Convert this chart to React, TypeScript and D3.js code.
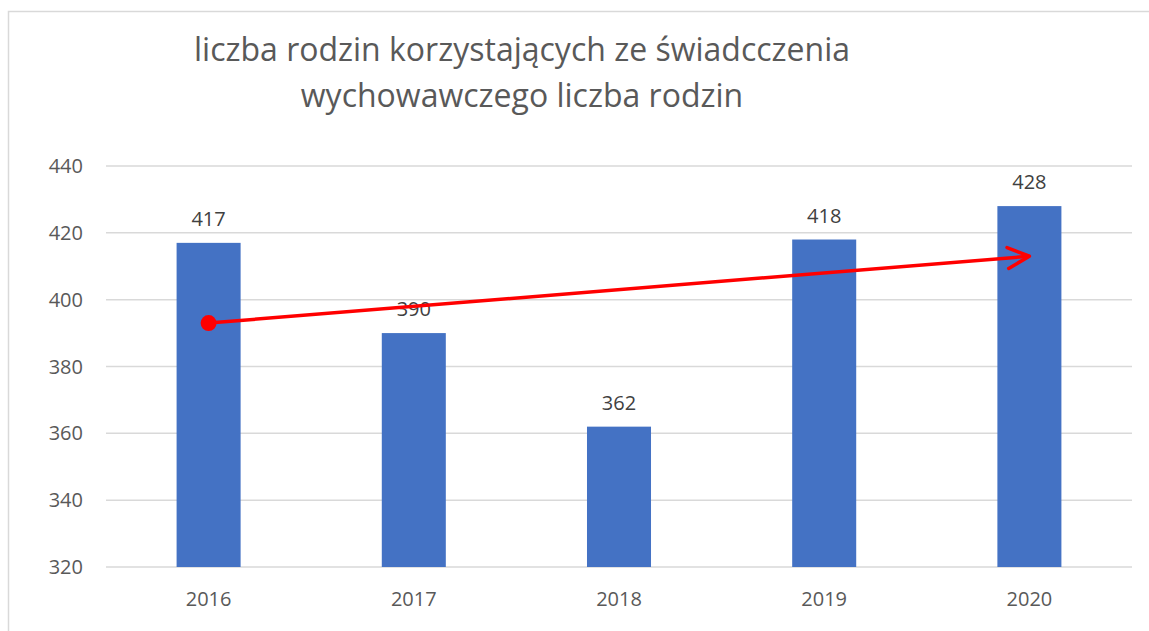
import React, { useRef, useEffect } from "react";
import * as d3 from "d3";

// data
const years = ["2016", "2017", "2018", "2019", "2020"];
const families = [417, 390, 362, 418, 428];
const yTicks = [320, 340, 360, 380, 400, 420, 440];
const trendYears = ["2016", "2020"];
const trendValues = [393, 413];
const titleLines = [
  "liczba rodzin korzystających ze świadcczenia",
  "wychowawczego liczba rodzin",
];

const W = 1149;
const H = 631;
const FONT = "'Open Sans', 'Liberation Sans', sans-serif";
const TEXT = "#595959";

const App = () => {
  const ref = useRef<SVGSVGElement>(null);

  useEffect(() => {
    if (!ref.current) return;
    const svg = d3.select(ref.current);
    svg.selectAll("*").remove();

    const margin = { top: 166, right: 17, bottom: 64, left: 106 };
    const width = W - margin.left - margin.right;
    const height = H - margin.top - margin.bottom;

    // chart area border
    svg
      .append("rect")
      .attr("x", 8.5)
      .attr("y", 11.5)
      .attr("width", W)
      .attr("height", H)
      .attr("fill", "#fff")
      .attr("stroke", "#d9d9d9")
      .attr("stroke-width", 1.5);

    // title
    svg
      .append("g")
      .selectAll("text")
      .data(titleLines)
      .enter()
      .append("text")
      .attr("x", 522)
      .attr("y", (d, i) => 61 + i * 46)
      .attr("text-anchor", "middle")
      .attr("fill", TEXT)
      .style("font-family", FONT)
      .style("font-size", "32px")
      .text((d) => d);

    const chart = svg
      .append("g")
      .attr("transform", `translate(${margin.left},${margin.top})`);

    const x = d3
      .scaleBand()
      .domain(years)
      .range([0, width])
      .paddingInner(0.688)
      .paddingOuter(0.344);

    const y = d3.scaleLinear().domain([320, 440]).range([height, 0]);

    // gridlines
    chart
      .selectAll(".grid")
      .data(yTicks)
      .enter()
      .append("line")
      .attr("class", "grid")
      .attr("x1", 0)
      .attr("x2", width)
      .attr("y1", (d) => y(d))
      .attr("y2", (d) => y(d))
      .attr("stroke", "#d9d9d9")
      .attr("stroke-width", 1.5);

    // y labels
    chart
      .selectAll(".ylab")
      .data(yTicks)
      .enter()
      .append("text")
      .attr("class", "ylab")
      .attr("x", -23)
      .attr("y", (d) => y(d))
      .attr("dy", "0.35em")
      .attr("text-anchor", "end")
      .attr("fill", TEXT)
      .style("font-family", FONT)
      .style("font-size", "20px")
      .text((d) => d);

    // bars
    chart
      .selectAll(".bar")
      .data(families)
      .enter()
      .append("rect")
      .attr("class", "bar")
      .attr("x", (d, i) => x(years[i]) as number)
      .attr("y", (d) => y(d))
      .attr("width", x.bandwidth())
      .attr("height", (d) => height - y(d))
      .attr("fill", "#4472c4");

    // value labels
    chart
      .selectAll(".val")
      .data(families)
      .enter()
      .append("text")
      .attr("class", "val")
      .attr("x", (d, i) => (x(years[i]) as number) + x.bandwidth() / 2)
      .attr("y", (d) => y(d) - 17)
      .attr("text-anchor", "middle")
      .attr("fill", "#404040")
      .style("font-family", FONT)
      .style("font-size", "20px")
      .text((d) => d);

    // x labels
    chart
      .selectAll(".xlab")
      .data(years)
      .enter()
      .append("text")
      .attr("class", "xlab")
      .attr("x", (d) => (x(d) as number) + x.bandwidth() / 2)
      .attr("y", height + 39)
      .attr("text-anchor", "middle")
      .attr("fill", TEXT)
      .style("font-family", FONT)
      .style("font-size", "20px")
      .text((d) => d);

    // red trend arrow
    const pts = trendYears.map((yr, i) => [
      (x(yr) as number) + x.bandwidth() / 2,
      y(trendValues[i]),
    ]);
    const [x0, y0] = pts[0];
    const [x1, y1] = pts[1];
    chart
      .append("line")
      .attr("x1", x0)
      .attr("y1", y0)
      .attr("x2", x1)
      .attr("y2", y1)
      .attr("stroke", "#ff0000")
      .attr("stroke-width", 3.5);
    chart
      .append("circle")
      .attr("cx", x0)
      .attr("cy", y0)
      .attr("r", 8)
      .attr("fill", "#ff0000");
    const ang = Math.atan2(y1 - y0, x1 - x0);
    const headLen = 24;
    const spread = 0.45;
    const head = d3.line()([
      [x1 - headLen * Math.cos(ang - spread), y1 - headLen * Math.sin(ang - spread)],
      [x1, y1],
      [x1 - headLen * Math.cos(ang + spread), y1 - headLen * Math.sin(ang + spread)],
    ]);
    chart
      .append("path")
      .attr("d", head)
      .attr("fill", "none")
      .attr("stroke", "#ff0000")
      .attr("stroke-width", 3.5)
      .attr("stroke-linecap", "round")
      .attr("stroke-linejoin", "round");
  }, []);

  return (
    <svg
      ref={ref}
      width={W}
      height={H}
      style={{ position: "absolute", left: 0, top: 0 }}
    />
  );
};

export default App;
